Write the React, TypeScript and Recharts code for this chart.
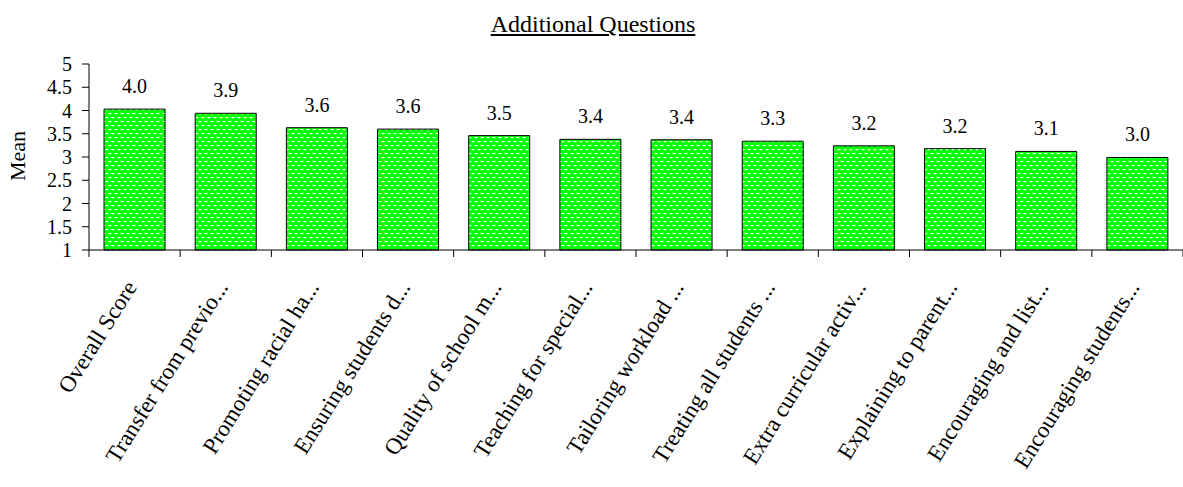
import { BarChart, Bar, XAxis, YAxis, LabelList } from 'recharts'

const categories = [
  'Overall Score',
  'Transfer from previo...',
  'Promoting racial ha...',
  'Ensuring students d...',
  'Quality of school m...',
  'Teaching for special...',
  'Tailoring workload ...',
  'Treating all students ...',
  'Extra curricular activ...',
  'Explaining to parent...',
  'Encouraging and list...',
  'Encouraging students...',
]

const means = [4.03, 3.94, 3.63, 3.6, 3.46, 3.38, 3.37, 3.34, 3.24, 3.18, 3.12, 2.99]

const yTicks = [1, 1.5, 2, 2.5, 3, 3.5, 4, 4.5, 5]

const data = categories.map((name, i) => ({ name, mean: means[i] }))

const W = 1183
const H = 487
const LEFT = 89
const RIGHT = 0
const BAND = (W - LEFT - RIGHT) / categories.length
const FONT = '"Liberation Serif", "Times New Roman", Times, serif'

function CategoryTick(props: any) {
  const { x, y, payload, index } = props
  const last = index === categories.length - 1
  const ax = x + 3
  const ay = y + 29
  return (
    <g>
      <line x1={x - BAND / 2} y1={y - 8} x2={x - BAND / 2} y2={y - 1} stroke="#000" />
      {last && <line x1={x + BAND / 2} y1={y - 8} x2={x + BAND / 2} y2={y - 1} stroke="#000" />}
      <text
        x={ax}
        y={ay}
        textAnchor="end"
        transform={`rotate(-58, ${ax}, ${ay})`}
        fontSize={23}
        fontFamily={FONT}
        fill="#000"
      >
        {payload.value}
      </text>
    </g>
  )
}

export default function App() {
  return (
    <div style={{ position: 'absolute', left: 0, top: 0, width: W, height: H, background: '#fff', fontFamily: FONT }}>
      <div
        style={{
          position: 'absolute',
          top: 11,
          left: 393,
          width: 400,
          lineHeight: '26px',
          textAlign: 'center',
          fontSize: 24,
          textDecoration: 'underline',
          color: '#000',
        }}
      >
        Additional Questions
      </div>
      <svg width={40} height={H} style={{ position: 'absolute', left: 0, top: 0 }}>
        <text
          x={25}
          y={156}
          textAnchor="middle"
          transform="rotate(-90, 25, 156)"
          fontSize={22}
          fontFamily={FONT}
          fill="#000"
        >
          Mean
        </text>
      </svg>
      <BarChart
        width={W}
        height={H}
        data={data}
        margin={{ top: 64, right: RIGHT, left: 0, bottom: 0 }}
        barCategoryGap="16.5%"
        style={{ position: 'absolute', left: 0, top: 0 }}
      >
        <defs>
          <pattern id="dots" width="6" height="8" patternUnits="userSpaceOnUse">
            <rect width="6" height="8" fill="#00ff00" />
            <rect x="0.5" y="1" width="3" height="1.2" fill="#ffffff" />
            <rect x="3.5" y="5" width="3" height="1.2" fill="#ffffff" />
            <rect x="-2.5" y="5" width="3" height="1.2" fill="#ffffff" />
          </pattern>
        </defs>
        <XAxis
          dataKey="name"
          interval={0}
          height={237}
          axisLine={{ stroke: '#000' }}
          tickLine={false}
          tick={<CategoryTick />}
        />
        <YAxis
          domain={[1, 5]}
          ticks={yTicks}
          interval={0}
          width={LEFT}
          axisLine={{ stroke: '#000' }}
          tickLine={{ stroke: '#000' }}
          tickSize={7}
          tickMargin={10}
          tick={{ fill: '#000', fontSize: 20, fontFamily: FONT }}
        />
        <Bar dataKey="mean" fill="url(#dots)" stroke="#000" strokeWidth={1} isAnimationActive={false}>
          <LabelList
            dataKey="mean"
            position="top"
            offset={16}
            formatter={(v: any) => Number(v).toFixed(1)}
            fill="#000"
            fontSize={20}
            fontFamily={FONT}
          />
        </Bar>
      </BarChart>
    </div>
  )
}
